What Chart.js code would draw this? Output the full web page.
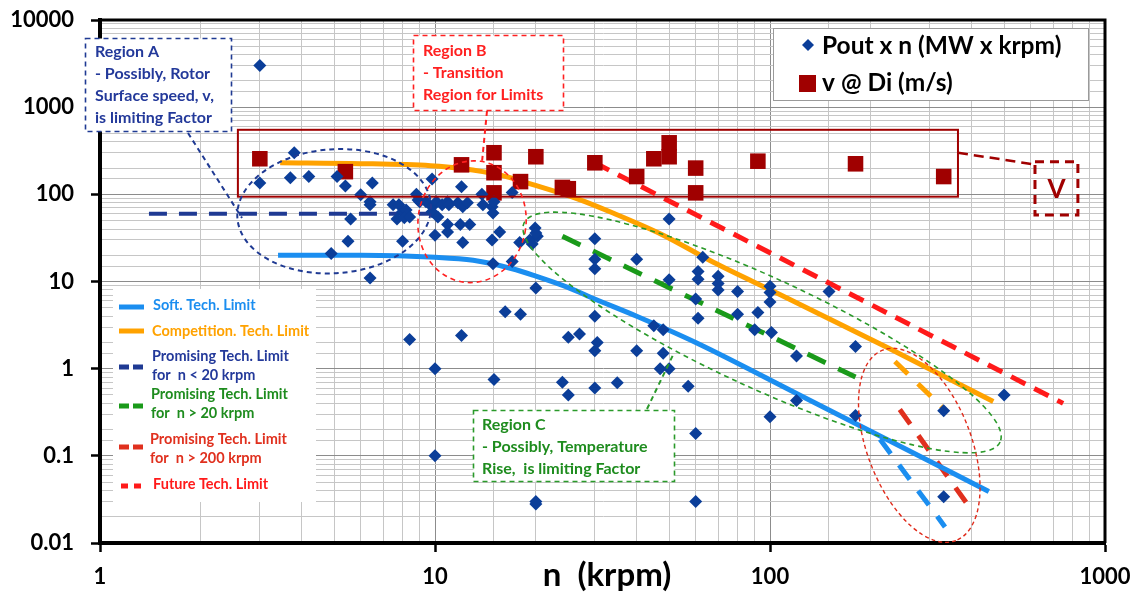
<!DOCTYPE html>
<html>
<head>
<meta charset="utf-8">
<script src="https://cdn.jsdelivr.net/npm/chart.js@4.4.1/dist/chart.umd.min.js"></script>
<style>
  html, body { margin: 0; padding: 0; background: #fff; }
  #wrap { width: 1137px; height: 592px; }
</style>
</head>
<body>
<div id="wrap"><canvas id="chart" width="1137" height="592"></canvas></div>
<script>
// Pout x n (MW x krpm) vs speed n (krpm), pairs [n, value]
const poutPoints = [
  [3, 3000], [3, 135], [3.8, 300], [3.7, 155], [4.2, 160], [5.1, 160], [5.4, 125], [6.5, 135],
  [6.0, 99], [6.4, 82], [6.4, 76], [5.6, 52], [5.5, 29], [4.9, 21], [6.4, 11], [7.5, 76],
  [7.8, 76], [8.0, 63], [8.2, 66], [7.7, 52], [8.1, 54], [8.4, 55], [8.0, 29], [8.8, 100],
  [8.9, 86], [9.8, 150], [12, 122], [9, 82], [9.4, 82], [9.8, 72], [10.1, 82], [9.8, 63],
  [10.2, 55], [10.5, 76], [10.9, 82], [11, 76], [11.7, 80], [12.1, 72], [12.5, 80], [13.8, 100],
  [13.9, 76], [14.8, 72], [14.9, 61], [15, 82], [17, 105], [10.9, 45], [10.9, 37], [11.9, 45],
  [12.7, 45], [12.1, 28], [10, 34], [14.8, 30], [15.6, 37], [14.9, 16], [17, 17], [17.9, 28],
  [19.2, 30], [19.9, 41], [20.2, 33], [19.5, 27], [20, 8.4], [50, 52], [20, 36], [30, 31],
  [30, 18], [30, 14], [40, 18], [50, 10.5], [63, 19], [61, 13], [61, 10.6], [70, 11.5],
  [70, 9.5], [70, 8], [80, 7.7], [100, 8.8], [100, 7.5], [100, 5.8], [30, 4], [61, 3.8],
  [80, 4.2], [92, 4.4], [16.2, 4.5], [18, 4.2], [8.4, 2.16], [12, 2.4], [10, 1.0], [10, 0.1],
  [15, 0.75], [20, 0.028], [25, 2.3], [27, 2.5], [30.5, 2.0], [30, 1.6], [24, 0.7], [25, 0.5],
  [30, 0.6], [35, 0.69], [40, 1.6], [150, 7.7], [60, 6.3], [90, 2.8], [101, 2.6], [120, 1.4],
  [180, 1.8], [48, 1.5], [47, 1.0], [50, 1.0], [45, 3.1], [48, 2.8], [57, 0.63], [120, 0.43],
  [100, 0.28], [180, 0.29], [60, 0.18], [60, 0.03], [500, 0.5], [330, 0.33], [330, 0.034], [20, 0.03]
];

// v @ Di (m/s) vs speed n (krpm)
const vPoints = [
  [3, 256], [5.4, 182], [12, 218], [15, 300], [15, 177], [15, 104], [18, 140], [20, 270],
  [24, 120], [25, 116], [30, 230], [40, 160], [45, 256], [50, 390], [50, 270], [60, 200],
  [60, 104], [92, 240], [180, 224], [330, 160]
];

// limit curves
const softX = [3.4, 6, 10, 13, 17, 20, 25, 30, 40, 60, 120, 450];
const softY = [20, 20, 19, 17.5, 14, 11.5, 8.5, 6.3, 4.0, 2.0, 0.52, 0.039];
const compX = [3.45, 6, 9.7, 12, 15.6, 19.6, 27, 34, 48, 68, 107, 224, 464];
const compY = [230, 225, 213, 198, 167, 129, 87, 61, 34, 16.5, 7.1, 1.75, 0.42];
const lowSpeedX = [1.4, 10];
const lowSpeedY = [60, 60];
const midSpeedX = [24, 180];
const midSpeedY = [33, 0.8];
const futureX = [30, 750];
const futureY = [230, 0.4];
const highCompX = [236, 339];
const highCompY = [1.21, 0.315];
const highSpeedX = [244, 404];
const highSpeedY = [0.34, 0.0225];
const highSoftX = [213, 333];
const highSoftY = [0.155, 0.0153];

const xTicks = [1, 10, 100, 1000];
const yTicks = [0.01, 0.1, 1, 10, 100, 1000, 10000];

const FONT = 'Lato, "Open Sans", sans-serif';
const isDecade = v => Math.abs(Math.log10(v) - Math.round(Math.log10(v))) < 1e-9;
const zip = (xs, ys) => xs.map((v, i) => ({ x: v, y: ys[i] }));

function lineSet(xs, ys, color, width, dash, mode) {
  return {
    type: 'line',
    data: zip(xs, ys),
    borderColor: color,
    borderWidth: width,
    borderDash: dash || [],
    pointRadius: 0,
    fill: false,
    cubicInterpolationMode: mode || 'default',
    tension: 0,
    order: 2
  };
}

function ellipse(ctx, cx, cy, rx, ry, rot, color, dash, lw) {
  ctx.beginPath();
  ctx.setLineDash(dash);
  ctx.strokeStyle = color;
  ctx.lineWidth = lw;
  ctx.ellipse(cx, cy, rx, ry, rot * Math.PI / 180, 0, Math.PI * 2);
  ctx.stroke();
}

function seg(ctx, x0, y0, x1, y1, color, dash, lw) {
  ctx.beginPath();
  ctx.setLineDash(dash);
  ctx.strokeStyle = color;
  ctx.lineWidth = lw;
  ctx.moveTo(x0, y0);
  ctx.lineTo(x1, y1);
  ctx.stroke();
}

function box(ctx, x0, y0, x1, y1, color, dash, lw, fill) {
  ctx.setLineDash(dash);
  if (fill) { ctx.fillStyle = fill; ctx.fillRect(x0, y0, x1 - x0, y1 - y0); }
  ctx.strokeStyle = color;
  ctx.lineWidth = lw;
  ctx.strokeRect(x0, y0, x1 - x0, y1 - y0);
}

function lines(ctx, texts, x, y0, step, color, font) {
  ctx.fillStyle = color;
  ctx.font = font;
  ctx.textAlign = 'left';
  ctx.textBaseline = 'middle';
  texts.forEach((t, i) => ctx.fillText(t, x, y0 + i * step));
}

const annotations = {
  id: 'annotations',
  afterDatasetsDraw(chart) {
    const { ctx, chartArea: a, scales: { x, y } } = chart;
    const X = v => x.getPixelForValue(v);
    const Y = v => y.getPixelForValue(v);
    ctx.save();

    // frame top and right
    ctx.setLineDash([]);
    ctx.strokeStyle = '#000';
    ctx.lineWidth = 3;
    ctx.beginPath();
    ctx.moveTo(a.left, a.top);
    ctx.lineTo(a.right, a.top);
    ctx.lineTo(a.right, a.bottom);
    ctx.stroke();

    // v group rectangle and the "V" tag
    box(ctx, X(2.58), Y(550), X(364), Y(94), '#a00000', [], 2);
    seg(ctx, X(364), Y(300), X(618), Y(220), '#a00000', [10, 6], 2.5);
    box(ctx, X(618), Y(236), X(830), Y(58), '#a00000', [9, 6], 3);
    ctx.fillStyle = '#a00000';
    ctx.font = 'bold 26px ' + FONT;
    ctx.textAlign = 'center';
    ctx.textBaseline = 'middle';
    ctx.fillText('V', (X(618) + X(830)) / 2, (Y(236) + Y(58)) / 2 + 1);

    // region ellipses
    ellipse(ctx, X(5.0), Y(64), 97, 62, -4, '#1f3a93', [5, 4], 2);
    ellipse(ctx, X(12.9), Y(48.5), 54, 61, 8, '#ff2020', [5, 4], 1.6);
    ellipse(ctx, X(94.7), Y(2.6), 262, 55, 24.7, '#2a9a2a', [5, 4], 1.6);
    ellipse(ctx, X(279), Y(0.132), 102, 52, 69, '#e02a1a', [4, 3], 1.4);

    // Region A
    seg(ctx, 188, 133, 242, 218, '#1f3a93', [5, 4], 2);
    box(ctx, 85.5, 38.5, 231.5, 131.5, '#1f3a93', [5, 4], 1.6, '#fff');
    lines(ctx, ['Region A', '- Possibly, Rotor', 'Surface speed, v,', 'is limiting Factor'],
      95, 52, 22, '#23399a', 'bold 16px ' + FONT);

    // Region B
    seg(ctx, 487, 111, 482, 162, '#ff2020', [5, 4], 2);
    box(ctx, 413.5, 35.5, 563.5, 110.5, '#ff2020', [5, 4], 1.6, '#fff');
    lines(ctx, ['Region B', '- Transition', 'Region for Limits'],
      423, 51, 22, '#ff2020', 'bold 16px ' + FONT);

    // Region C
    seg(ctx, 647, 409, 673, 355, '#2a9a2a', [5, 4], 2);
    box(ctx, 473.5, 410.5, 674.5, 481.5, '#2a9a2a', [5, 4], 1.6, '#fff');
    lines(ctx, ['Region C', '- Possibly, Temperature', 'Rise,  is limiting Factor'],
      482, 425, 22, '#1e8c1e', 'bold 16px ' + FONT);

    // legend for markers
    box(ctx, 773.5, 28.5, 1088.5, 100.5, '#9a9a9a', [], 1, '#fff');
    ctx.setLineDash([]);
    ctx.fillStyle = '#0b3e99';
    ctx.beginPath();
    ctx.moveTo(808, 39); ctx.lineTo(814, 45); ctx.lineTo(808, 51); ctx.lineTo(802, 45);
    ctx.closePath(); ctx.fill();
    ctx.fillStyle = '#a00000';
    ctx.fillRect(799, 75, 17, 17);
    lines(ctx, ['Pout x n (MW x krpm)', 'v @ Di (m/s)'], 822, 46, 37, '#000', 'bold 24.5px ' + FONT);

    // legend for limit curves
    ctx.fillStyle = '#fff';
    ctx.fillRect(113, 289, 203, 213);
    const sw = (yy, color, dash) => seg(ctx, 119, yy, 144, yy, color, dash, 5);
    sw(307, '#1b8ef0', []);
    sw(331, '#ffa200', []);
    sw(367, '#1f3a93', [10, 4]);
    sw(406, '#1a9a1a', [10, 4]);
    sw(447, '#e0301e', [10, 4]);
    seg(ctx, 121, 486, 144, 486, '#ff1a1a', [7, 6], 5);
    const lf = 'bold 14.5px ' + FONT;
    lines(ctx, ['Soft. Tech. Limit'], 153, 305, 0, '#1b8ef0', lf);
    lines(ctx, ['Competition. Tech. Limit'], 152, 331, 0, '#ffa200', lf);
    lines(ctx, ['Promising Tech. Limit', 'for  n < 20 krpm'], 152, 356, 19, '#23399a', lf);
    lines(ctx, ['Promising Tech. Limit', 'for  n > 20 krpm'], 151, 394, 19, '#1e8c1e', lf);
    lines(ctx, ['Promising Tech. Limit', 'for  n > 200 krpm'], 150, 439, 19, '#e0301e', lf);
    lines(ctx, ['Future Tech. Limit'], 153, 484, 0, '#ff1a1a', lf);

    // axis title
    ctx.fillStyle = '#000';
    ctx.font = 'bold 33px ' + FONT;
    ctx.textAlign = 'center';
    ctx.textBaseline = 'middle';
    ctx.fillText('n  (krpm)', 607, 575);

    ctx.restore();
  }
};

const axisGrid = {
  color: c => (c.tick && isDecade(c.tick.value)) ? '#8c8c8c' : '#c6c6c6',
  lineWidth: 1,
  tickColor: c => (c.tick && isDecade(c.tick.value)) ? '#000' : 'rgba(0,0,0,0)',
  tickWidth: 2.5,
  tickLength: 9
};

// keep the plot area where the layout padding puts it
const noScalePadding = s => {
  s.paddingTop = 0; s.paddingBottom = 0; s.paddingLeft = 0; s.paddingRight = 0;
};

new Chart(document.getElementById('chart'), {
  type: 'scatter',
  data: {
    datasets: [
      {
        label: 'Pout x n (MW x krpm)',
        data: poutPoints.map(p => ({ x: p[0], y: p[1] })),
        pointStyle: 'rectRot',
        pointRadius: 6.5,
        backgroundColor: '#0b3e99',
        borderColor: '#0b3e99',
        borderWidth: 0,
        order: 0
      },
      {
        label: 'v @ Di (m/s)',
        data: vPoints.map(p => ({ x: p[0], y: p[1] })),
        pointStyle: 'rect',
        pointRadius: 11,
        backgroundColor: '#a00000',
        borderColor: '#a00000',
        borderWidth: 0,
        order: 1
      },
      lineSet(softX, softY, '#1b8ef0', 5, [], 'monotone'),
      lineSet(compX, compY, '#ffa200', 5, [], 'monotone'),
      lineSet(lowSpeedX, lowSpeedY, '#1f3a93', 4, [18, 12]),
      lineSet(midSpeedX, midSpeedY, '#1a9a1a', 5, [20, 14]),
      lineSet(futureX, futureY, '#ff1a1a', 5, [16, 10]),
      lineSet(highCompX, highCompY, '#ffa200', 5, [18, 14]),
      lineSet(highSpeedX, highSpeedY, '#e0301e', 5, [18, 14]),
      lineSet(highSoftX, highSoftY, '#1b8ef0', 5, [18, 14])
    ]
  },
  options: {
    responsive: false,
    animation: false,
    devicePixelRatio: 1,
    layout: { padding: { top: 20, right: 32, left: 0, bottom: 0 } },
    plugins: { legend: { display: false }, tooltip: { enabled: false } },
    scales: {
      x: {
        type: 'logarithmic',
        min: xTicks[0],
        max: xTicks[xTicks.length - 1],
        afterFit: s => { s.height = 49; noScalePadding(s); },
        border: { color: '#000', width: 4 },
        grid: axisGrid,
        ticks: {
          autoSkip: false,
          maxRotation: 0,
          padding: 12,
          color: '#000',
          font: { family: FONT, size: 22, weight: 'bold' },
          callback: v => xTicks.includes(v) ? String(v) : ''
        }
      },
      y: {
        type: 'logarithmic',
        min: yTicks[0],
        max: yTicks[yTicks.length - 1],
        afterFit: s => { s.width = 100; noScalePadding(s); },
        border: { color: '#000', width: 4 },
        grid: axisGrid,
        ticks: {
          autoSkip: false,
          padding: 17,
          color: '#000',
          font: { family: FONT, size: 22, weight: 'bold' },
          callback: v => yTicks.some(t => Math.abs(t - v) / t < 1e-9) ? String(v) : ''
        }
      }
    }
  },
  plugins: [annotations]
});
</script>
</body>
</html>
